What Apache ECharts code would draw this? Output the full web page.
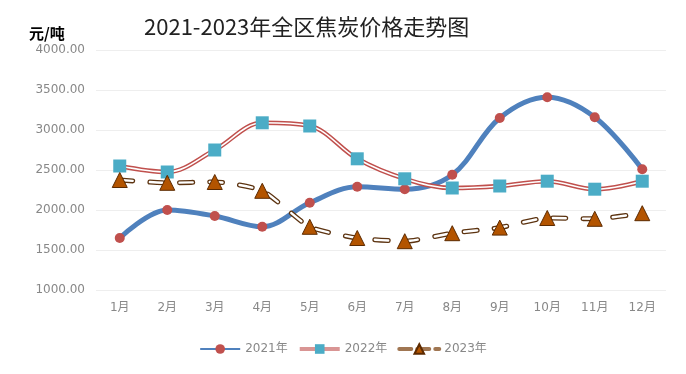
<!DOCTYPE html>
<html><head><meta charset="utf-8">
<script src="https://cdn.jsdelivr.net/npm/echarts@6/dist/echarts.min.js"></script>
<style>html,body{margin:0;padding:0;background:#fff}#c{width:686px;height:374px}</style>
</head><body><div id="c"></div>
<script>
const months = ['1月','2月','3月','4月','5月','6月','7月','8月','9月','10月','11月','12月'];
const y2021 = [1650, 2000, 1925, 1790, 2090, 2290, 2260, 2440, 3150, 3410, 3160, 2510];
const y2022 = [2550, 2475, 2750, 3090, 3050, 2640, 2390, 2275, 2300, 2360, 2260, 2360];
const y2023 = [2375, 2340, 2350, 2240, 1790, 1650, 1610, 1710, 1780, 1900, 1890, 1960];
const seriesNames = ['2021年','2022年','2023年'];

const chart = echarts.init(document.getElementById('c'), null, {renderer:'canvas'});
const font = '"Microsoft YaHei","Noto Sans CJK SC",sans-serif';
const numFont = '"DejaVu Sans","Noto Sans CJK SC",sans-serif';
chart.setOption({
  animation:false,
  backgroundColor:'#fff',
  title:[
    {text:'2021-2023年全区焦炭价格走势图', left:139, top:11,
     textStyle:{fontSize:22, fontWeight:'normal', color:'#222', fontFamily:font}},
    {text:'元/吨', left:24, top:21,
     textStyle:{fontSize:15, fontWeight:'bold', color:'#000', fontFamily:font}}
  ],
  grid:{left:96, right:20, top:50, bottom:84},
  legend:{
    bottom:14, left:'center', itemWidth:40, itemHeight:12, itemGap:10,
    textStyle:{color:'#888', fontSize:12, fontFamily:numFont},
    data:[
      {name:'2021年'},
      {name:'2022年', lineStyle:{color:'#d99594', width:4}},
      {name:'2023年', lineStyle:{color:'#a07652', width:4, type:[12,6]}}
    ]
  },
  xAxis:{type:'category', data:months, boundaryGap:true,
    axisLine:{show:false}, axisTick:{show:false},
    axisLabel:{color:'#888', fontSize:12, margin:12, fontFamily:numFont}},
  yAxis:{type:'value', min:1000, max:4000, interval:500,
    axisLabel:{color:'#888', fontSize:12, margin:11, fontFamily:numFont, formatter:v=>v.toFixed(2)},
    splitLine:{lineStyle:{color:'#eeeeee'}}},
  series:[
    {name:'2021年', type:'line', data:y2021, smooth:0.35, z:2,
     lineStyle:{color:'#4F81BD', width:5}, symbol:'circle', symbolSize:10,
     itemStyle:{color:'#C0504D', borderWidth:0}},
    {name:'2022b', type:'line', data:y2022, smooth:0.35, z:3, symbol:'none',
     lineStyle:{color:'#C0504D', width:4.5}},
    {name:'2022年', type:'line', data:y2022, smooth:0.35, z:4,
     lineStyle:{color:'#ffffff', width:1.6}, symbol:'rect', symbolSize:13,
     itemStyle:{color:'#4BACC6', borderWidth:0}},
    {name:'2023b', type:'line', data:y2023, smooth:0.2, z:5, symbol:'none',
     lineStyle:{color:'#5C3310', width:5, type:[13,17], cap:'round'}},
    {name:'2023年', type:'line', data:y2023, smooth:0.2, z:6,
     lineStyle:{color:'#ffffff', width:2.4, type:[13,17], cap:'round'},
     symbol:'triangle', symbolSize:15,
     itemStyle:{color:'#B35400', borderColor:'#5C2A00', borderWidth:1}}
  ]
});
</script></body></html>
